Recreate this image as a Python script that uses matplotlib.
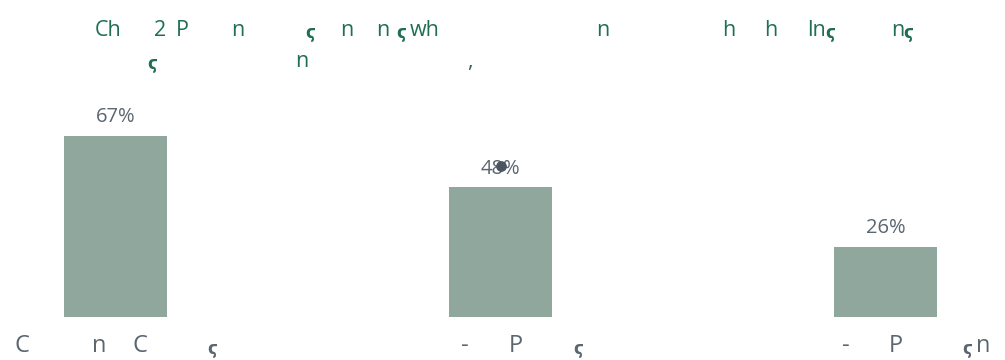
import matplotlib
matplotlib.use("Agg")
import matplotlib.pyplot as plt

plt.rcParams['font.family'] = ['Open Sans', 'DejaVu Sans']

# data
categories = ["C  n C  ϛ", "-  P  ϛ", "-  P  ϛn"]
values = [67, 48, 26]
marker_cat = 1
marker_value = 56

W, H = 1005, 360
bar_color = "#8fa79c"
title_color = "#1f6e55"
text_color = "#5b6670"

# visible fragments of the title (pixel x, pixel baseline y, text)
title_bits = [
    (95, 36, "Ch"), (154, 36, "2"), (176, 36, "P"), (231, 36, "n"),
    (305, 38, "ϛ"), (340, 36, "n"), (376, 36, "n"), (396, 38, "ϛ"),
    (410, 36, "wh"), (596, 36, "n"), (722, 36, "h"), (764, 36, "h"),
    (807, 36, "ln"), (825, 38, "ϛ"), (891, 36, "n"), (903, 38, "ϛ"),
    (147, 69, "ϛ"), (295, 67, "n"), (467, 67, ","),
]
# visible fragments of the category labels
label_bits = [
    (15, 352, "C"), (92, 352, "n"), (133, 352, "C"), (207, 354, "ϛ"),
    (461, 352, "-"), (509, 352, "P"), (573, 354, "ϛ"),
    (842, 352, "-"), (889, 352, "P"), (962, 354, "ϛ"), (976, 352, "n"),
]

fig = plt.figure(figsize=(W / 100, H / 100), dpi=100)
ax = fig.add_axes([0, (H - 317) / H, 1, 317 / H])

x = list(range(len(categories)))
bars = ax.bar(x, values, width=103 / 385, color=bar_color)
for b, v in zip(bars, values):
    ax.annotate(f"{v}%", (b.get_x() + b.get_width() / 2, v),
                xytext=(0, 10), textcoords="offset points",
                ha="center", va="baseline", fontsize=14.5, color=text_color)
ax.scatter([marker_cat], [marker_value], s=45, color="#4a5560", zorder=5)

ax.set_xlim(-115.5 / 385, (W - 115.5) / 385)
ax.set_ylim(0, 317 / 2.7)
ax.axis("off")

for px, py, t in title_bits:
    small = t == "ϛ"
    fig.text(px / W, 1 - py / H, t, fontsize=12 if small else 15.5,
             fontweight="bold" if small else "normal", color=title_color,
             ha="left", va="baseline")
for px, py, t in label_bits:
    small = t == "ϛ"
    fig.text(px / W, 1 - py / H, t, fontsize=12 if small else 17,
             fontweight="bold" if small else "normal", color=text_color,
             ha="left", va="baseline")

fig.savefig("out.png", dpi=100)
